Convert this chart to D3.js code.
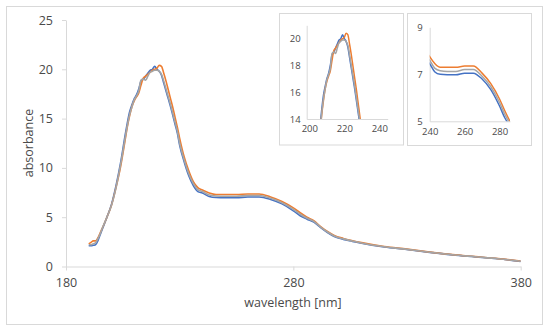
<!DOCTYPE html>
<html>
<head>
<meta charset="utf-8">
<script src="https://cdn.jsdelivr.net/npm/d3@7"></script>
<style>
	body { margin: 0; background: #fff; }
	svg { display: block; font-family: 'Open Sans', sans-serif; }
</style>
</head>
<body>
<svg width="550" height="332"></svg>
<script>

// wavelength [nm] shared by all three spectra
const wavelengths = [ 190, 191, 192, 193, 194, 195, 196, 198, 200, 202, 204, 206, 207, 208, 209, 210,
	211, 212, 213, 214, 215, 216, 217, 218, 219, 220, 221, 222, 223, 224, 225, 226, 227, 228, 229, 230,
	232, 234, 236, 238, 240, 243, 246, 250, 255, 260, 265, 270, 275, 280, 283, 286, 289, 292, 295, 298,
	302, 306, 310, 320, 330, 340, 350, 360, 370, 380 ]

const blueSeries = [ 2.1, 2.1, 2.15, 2.2, 2.6, 3.2, 3.8, 5.0, 6.3, 8.2, 10.5, 13.3, 14.6, 15.7, 16.4, 17.0,
	17.4, 18.0, 18.8, 19.0, 19.3, 19.6, 19.9, 20.0, 20.3, 20.0, 19.8, 19.4, 18.6, 17.8, 17.0, 16.2, 15.3, 14.4, 13.5, 12.3,
	10.6, 9.2, 8.2, 7.6, 7.45, 7.1, 7.0, 6.98, 6.98, 7.05, 7.05, 6.8, 6.35, 5.65, 5.15, 4.8, 4.5, 3.95, 3.45, 3.05,
	2.75, 2.55, 2.35, 1.97, 1.72, 1.43, 1.18, 0.98, 0.78, 0.52 ]

const orangeSeries = [ 2.3, 2.45, 2.6, 2.6, 2.9, 3.4, 3.9, 5.0, 6.2, 8.0, 10.1, 12.8, 14.2, 15.3, 16.2, 16.8,
	17.2, 17.6, 18.4, 19.1, 19.3, 19.5, 19.7, 19.9, 20.0, 20.1, 20.4, 20.3, 19.6, 18.8, 17.9, 17.0, 16.1, 15.1, 14.1, 13.0,
	11.1, 9.7, 8.6, 8.0, 7.75, 7.45, 7.3, 7.3, 7.3, 7.35, 7.35, 7.05, 6.6, 5.95, 5.45, 5.0, 4.65, 4.05, 3.55, 3.15,
	2.85, 2.62, 2.42, 2.02, 1.76, 1.46, 1.2, 1.0, 0.8, 0.55 ]

const graySeries = [ 2.2, 2.2, 2.3, 2.4, 2.8, 3.3, 3.9, 5.0, 6.2, 8.0, 10.3, 13.0, 14.3, 15.4, 16.2, 16.9,
	17.3, 17.8, 18.9, 19.0, 18.9, 19.3, 19.7, 19.8, 19.9, 19.9, 19.8, 19.5, 18.8, 18.0, 17.2, 16.4, 15.5, 14.6, 13.7, 12.5,
	10.8, 9.4, 8.4, 7.8, 7.6, 7.25, 7.15, 7.12, 7.12, 7.2, 7.2, 6.92, 6.47, 5.8, 5.3, 4.9, 4.58, 4.0, 3.5, 3.1,
	2.8, 2.58, 2.38, 2.0, 1.74, 1.45, 1.19, 0.99, 0.79, 0.54 ]

const seriesColors = [ '#4472c4', '#ed7d31', '#a5a5a5' ]

const mainXTicks = [ 180, 280, 380 ],
	mainYTicks = [ 0, 5, 10, 15, 20, 25 ],
	peakXTicks = [ 200, 220, 240 ],
	peakYTicks = [ 14, 16, 18, 20 ],
	shoulderXTicks = [ 240, 260, 280 ],
	shoulderYTicks = [ 5, 7, 9 ]

const svg = d3.select( 'svg' ),
	series = [ blueSeries, orangeSeries, graySeries ].map( vals => vals.map( ( v, i ) => [ wavelengths[ i ], v ] ) ),
	gridColor = '#d9d9d9',
	textColor = '#4a4a4a'

// outer frame
svg.append( 'rect' )
	.attr( 'x', 6.5 ).attr( 'y', 6.5 )
	.attr( 'width', 536 ).attr( 'height', 318 )
	.attr( 'fill', '#fff' ).attr( 'stroke', gridColor )

function panel( opts ) {

	const x = d3.scaleLinear().domain( opts.xDomain ).range( opts.xRange ),
		y = d3.scaleLinear().domain( opts.yDomain ).range( opts.yRange ),
		g = svg.append( 'g' )

	if ( opts.frame ) {
		g.append( 'rect' )
			.attr( 'x', opts.frame[ 0 ] ).attr( 'y', opts.frame[ 1 ] )
			.attr( 'width', opts.frame[ 2 ] ).attr( 'height', opts.frame[ 3 ] )
			.attr( 'fill', '#fff' ).attr( 'stroke', gridColor )
	}

	const clipId = 'clip' + opts.id
	g.append( 'clipPath' ).attr( 'id', clipId )
		.append( 'rect' )
		.attr( 'x', opts.xRange[ 0 ] ).attr( 'y', opts.yRange[ 1 ] - 2 )
		.attr( 'width', opts.xRange[ 1 ] - opts.xRange[ 0 ] )
		.attr( 'height', opts.yRange[ 0 ] - opts.yRange[ 1 ] + 2 )

	const yAxis = g.append( 'g' )
		.attr( 'transform', `translate(${opts.xRange[ 0 ]},0)` )
		.call( d3.axisLeft( y ).tickValues( opts.yTicks ).tickFormat( d3.format( 'd' ) )
			.tickSize( opts.tick ).tickSizeOuter( 0 ).tickPadding( opts.yPad ) )

	const xAxis = g.append( 'g' )
		.attr( 'transform', `translate(0,${opts.yRange[ 0 ]})` )
		.call( d3.axisBottom( x ).tickValues( opts.xTicks ).tickFormat( d3.format( 'd' ) )
			.tickSize( opts.tick ).tickSizeOuter( 0 ).tickPadding( opts.xPad ) )

	;[ yAxis, xAxis ].forEach( a => {
		a.select( '.domain' ).attr( 'stroke', gridColor )
		a.selectAll( '.tick line' ).attr( 'stroke', gridColor )
		a.selectAll( 'text' )
			.attr( 'fill', textColor )
			.style( 'font-family', "'Open Sans', sans-serif" )
			.style( 'font-size', opts.fontSize + 'px' )
	})

	const line = d3.line()
		.x( d => x( d[ 0 ] ) )
		.y( d => y( d[ 1 ] ) )
		.curve( d3.curveMonotoneX )

	g.append( 'g' )
		.attr( 'clip-path', `url(#${clipId})` )
		.selectAll( 'path' )
		.data( series )
		.enter()
		.append( 'path' )
		.attr( 'd', line )
		.attr( 'fill', 'none' )
		.attr( 'stroke', ( d, i ) => seriesColors[ i ] )
		.attr( 'stroke-width', opts.lineWidth )
		.attr( 'stroke-linejoin', 'round' )

}

// main spectrum
panel({
	id: 'main',
	xDomain: [ 180, 380 ], xRange: [ 66, 520.7 ],
	yDomain: [ 0, 25 ], yRange: [ 266.5, 20 ],
	xTicks: mainXTicks, yTicks: mainYTicks,
	tick: 4, xPad: 8, yPad: 9, fontSize: 12.5, lineWidth: 1.6
})

// inset around the 220 nm peak
panel({
	id: 'peak',
	frame: [ 279.5, 13.5, 124, 131.5 ],
	xDomain: [ 198.5, 244.8 ], xRange: [ 306.7, 387.7 ],
	yDomain: [ 14, 21 ], yRange: [ 119, 25.3 ],
	xTicks: peakXTicks, yTicks: peakYTicks,
	tick: 0, xPad: 6, yPad: 6, fontSize: 9.5, lineWidth: 1.5
})

// inset on the 240-290 nm shoulder
panel({
	id: 'shoulder',
	frame: [ 407.5, 13.5, 124, 132 ],
	xDomain: [ 240, 286 ], xRange: [ 429.7, 510 ],
	yDomain: [ 5, 9 ], yRange: [ 121.3, 27.3 ],
	xTicks: shoulderXTicks, yTicks: shoulderYTicks,
	tick: 0, xPad: 7, yPad: 7, fontSize: 9.5, lineWidth: 1.5
})

// axis titles
svg.append( 'text' )
	.attr( 'transform', 'translate(33,143) rotate(-90)' )
	.attr( 'text-anchor', 'middle' )
	.attr( 'fill', textColor )
	.style( 'font-size', '12.5px' )
	.text( 'absorbance' )

svg.append( 'text' )
	.attr( 'x', 293 ).attr( 'y', 307 )
	.attr( 'text-anchor', 'middle' )
	.attr( 'fill', textColor )
	.style( 'font-size', '12.5px' )
	.text( 'wavelength [nm]' )

</script>
</body>
</html>
